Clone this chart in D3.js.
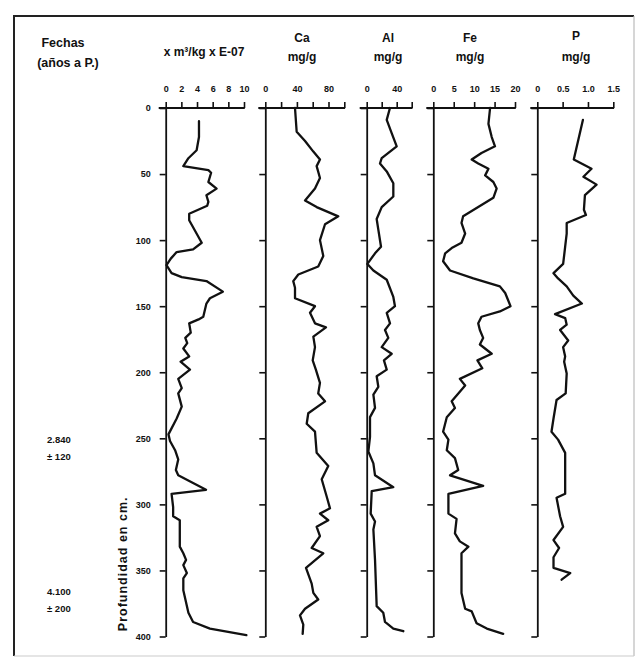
<!DOCTYPE html>
<html>
<head>
<meta charset="utf-8">
<script src="https://cdn.jsdelivr.net/npm/d3@7"></script>
<style>
  body { margin: 0; background: #ffffff; }
  svg { display: block; }
  text { font-family: "Liberation Sans", Arial, sans-serif; font-weight: bold; fill: #111; }
</style>
</head>
<body>
<svg id="chart" width="641" height="661"></svg>
<script>
// ---------------- DATA ----------------
const depthTicks = [0, 50, 100, 150, 200, 250, 300, 350, 400];

const susDepth = [10,22,32,38,44,47,49,56,61,66,71,74,80,85,102,107,109,114,119,125,128,131,139,144,148,158,160,163,170,174,178,182,188,192,198,205,212,216,226,235,247,252,259,266,274,278,289,292,302,309,312,332,337,342,346,352,356,365,382,389,394,399];
const susValue = [4.25,4.25,3.95,2.9,2.25,5.45,5.8,5.45,6.5,5.2,5.45,5.3,3.0,3.0,4.6,3.5,1.4,0.65,0.1,0.75,2.05,5.2,7.3,5.65,5.2,4.8,4.2,3.0,3.2,2.5,2.75,2.25,3.0,1.9,3.1,1.6,2.05,1.6,2.05,1.4,0.35,0.55,1.2,1.6,1.3,1.6,5.15,0.75,0.95,0.95,1.8,1.8,2.25,2.6,2.25,2.7,2.25,2.25,2.9,3.5,5.65,10.3];
const susTicks = [0, 2, 4, 6, 8, 10];
const susTickLabels = ["0", "2", "4", "6", "8", "10"];

const caDepth = [0,18,25,33,39,44,53,61,70,75,82,88,100,112,120,126,131,136,144,150,155,163,166,173,181,191,198,208,216,222,231,239,245,261,271,281,294,303,307,312,317,324,333,337,348,360,367,372,379,384,391,398];
const caValue = [37.6,39.7,50.3,60.8,69.2,65,69.2,62.9,50.3,65,92.4,75.6,69.2,73.4,67,41.8,35.4,37.6,37.6,62.9,56.6,62.9,76.8,60.8,62.9,60,64,69.2,67,75.6,54.4,52.4,62.9,65,79.7,71.4,77.7,81.9,69.2,79.7,65,69.2,58.7,73.4,51.5,58.7,60.8,67,50.3,43.9,48.1,47.3];
const caTicks = [0, 20, 40, 60, 80, 100];
const caTickLabels = ["0", "", "40", "", "80", ""];

const alDepth = [0,9,19,29,38,42,48,57,67,75,84,92,105,110,118,123,130,143,150,155,163,168,174,181,186,191,198,203,211,217,227,234,249,260,269,278,287,290,307,313,319,342,377,382,389,394,396];
const alValue = [31,26.7,33.3,40,20,17.7,26.7,35.5,35.5,20,13.3,15.5,19.1,11.1,0.9,8.9,26.7,35.5,37.7,26.7,31.1,24.4,28.8,20,33.3,23,26.7,13.3,15.5,8.9,11.1,4.4,4.4,2.2,8.9,11.1,35.5,6.7,5.3,11.1,8.9,11.1,13.3,22.1,24.4,35.5,48.8];
const alTicks = [0, 20, 40, 60];
const alTickLabels = ["0", "", "40", ""];

const feDepth = [0,12,22,29,34,39,42,46,51,56,61,68,75,82,87,95,102,106,110,116,123,129,135,140,150,154,158,163,168,174,179,186,191,197,205,210,222,227,234,245,251,259,265,274,278,286,292,307,311,322,328,332,337,367,379,381,390,394,398];
const feValue = [13.9,13.5,14.3,15.1,11.8,9.4,11,13.5,12.7,14.7,15.5,14.7,11,7.3,6.9,7.8,6.9,4.5,2.9,2.4,4.1,9.8,16.3,17.6,18.9,16.3,11.8,11,11.4,12.2,11.4,14.3,10.8,12,6.5,7.8,4.5,5.3,3.3,2.4,3.7,3.3,5.3,6.1,4.1,12.2,3.7,3.7,5.7,5.3,6.5,8.6,6.9,6.9,7.8,9.4,10.6,13.1,17.1];
const feTicks = [0, 5, 10, 15, 20];
const feTickLabels = ["0", "5", "10", "15", "20"];

const pDepth = [9,39,43,46,52,58,66,77,81,87,95,105,118,125,129,135,142,148,156,159,164,168,176,181,188,192,201,216,221,235,245,251,261,292,295,309,317,327,333,340,348,352,357];
const pValue = [0.9,0.72,0.92,1.07,0.91,1.17,0.94,0.92,0.96,0.58,0.58,0.55,0.51,0.32,0.41,0.58,0.71,0.88,0.35,0.55,0.58,0.45,0.61,0.51,0.55,0.53,0.58,0.56,0.38,0.32,0.28,0.41,0.55,0.55,0.38,0.45,0.51,0.32,0.43,0.32,0.32,0.65,0.48];
const pTicks = [0, 0.5, 1.0, 1.5];
const pTickLabels = ["0", "0.5", "1.0", "1.5"];

const panelTitles = [["x m\u00B3/kg x E-07"], ["Ca", "mg/g"], ["Al", "mg/g"], ["Fe", "mg/g"], ["P", "mg/g"]];
const dateLabels = [["2.840", "\u00B1 120"], ["4.100", "\u00B1 200"]];

// ---------------- LAYOUT ----------------
const svg = d3.select("#chart");
const y = d3.scaleLinear().domain([0, 400]).range([108, 636.5]);

const panels = [
  { depth: susDepth, value: susValue, ticks: susTicks, labels: susTickLabels, x0: 165.7, x1: 244, title: panelTitles[0], tx: 204, ty: [56] },
  { depth: caDepth,  value: caValue,  ticks: caTicks,  labels: caTickLabels,  x0: 265.3, x1: 344.3, title: panelTitles[1], tx: 302, ty: [42, 61] },
  { depth: alDepth,  value: alValue,  ticks: alTicks,  labels: alTickLabels,  x0: 366.7, x1: 411.7, title: panelTitles[2], tx: 388, ty: [42, 61] },
  { depth: feDepth,  value: feValue,  ticks: feTicks,  labels: feTickLabels,  x0: 433.3, x1: 515, title: panelTitles[3], tx: 470, ty: [42, 61] },
  { depth: pDepth,   value: pValue,   ticks: pTicks,   labels: pTickLabels,   x0: 537.3, x1: 613.3, title: panelTitles[4], tx: 576, ty: [40, 61] }
];

// Frame
svg.append("line").attr("x1", 14).attr("y1", 16).attr("x2", 634).attr("y2", 16).attr("stroke", "#222").attr("stroke-width", 2);
svg.append("line").attr("x1", 14).attr("y1", 15).attr("x2", 14).attr("y2", 656).attr("stroke", "#222").attr("stroke-width", 2);
svg.append("line").attr("x1", 634).attr("y1", 16).attr("x2", 634).attr("y2", 656).attr("stroke", "#bbb").attr("stroke-width", 1.2);
svg.append("line").attr("x1", 14).attr("y1", 656).attr("x2", 634).attr("y2", 656).attr("stroke", "#ccc").attr("stroke-width", 1.2);

// Header left
svg.append("text").attr("x", 63).attr("y", 47).attr("text-anchor", "middle").attr("font-size", 12.5).text("Fechas");
svg.append("text").attr("x", 68).attr("y", 67).attr("text-anchor", "middle").attr("font-size", 12.5).text("(años a P.)");

panels.forEach((p, i) => {
  const x = d3.scaleLinear().domain([p.ticks[0], p.ticks[p.ticks.length - 1]]).range([p.x0, p.x1]);

  // titles
  p.title.forEach((t, k) => {
    svg.append("text").attr("x", p.tx).attr("y", p.ty[k]).attr("text-anchor", "middle")
      .attr("font-size", 12).text(t);
  });

  // top axis
  const top = svg.append("g").attr("transform", `translate(0,${y(0)})`)
    .call(d3.axisTop(x).tickValues(p.ticks).tickSize(6).tickSizeOuter(0).tickPadding(10)
      .tickFormat((d, k) => p.labels[k]));
  top.select(".domain").remove();
  top.selectAll(".tick line").attr("stroke", "#111").attr("stroke-width", 1.6);
  top.selectAll(".tick text").attr("font-size", 9).attr("font-family", "Liberation Sans, Arial, sans-serif").attr("font-weight", "bold").attr("fill", "#111");
  svg.append("line").attr("x1", p.x0 - 7).attr("x2", p.x1 + 0.8).attr("y1", y(0)).attr("y2", y(0))
    .attr("stroke", "#111").attr("stroke-width", 1.8);

  // left axis
  const left = svg.append("g").attr("transform", `translate(${p.x0},0)`)
    .call(d3.axisLeft(y).tickValues(depthTicks).tickSize(6).tickSizeOuter(0).tickPadding(9)
      .tickFormat(i === 0 ? d3.format("d") : () => ""));
  left.select(".domain").attr("stroke", "#111").attr("stroke-width", 1.8);
  left.selectAll(".tick line").attr("stroke", "#111").attr("stroke-width", 1.6);
  left.selectAll(".tick text").attr("font-size", 9).attr("font-family", "Liberation Sans, Arial, sans-serif").attr("font-weight", "bold").attr("fill", "#111");

  // curve
  const pts = p.depth.map((d, k) => [x(p.value[k]), y(d)]);
  svg.append("path").attr("d", d3.line().curve(d3.curveLinear)(pts))
    .attr("fill", "none").attr("stroke", "#111").attr("stroke-width", 2.3)
    .attr("stroke-linejoin", "round").attr("stroke-linecap", "round");
});

// Depth label
svg.append("text").attr("transform", `translate(127,${y(345)}) rotate(-90)`)
  .attr("text-anchor", "middle").attr("font-size", 12.5).attr("letter-spacing", 1)
  .text("Profundidad  en  cm.");

// Date labels
const dateDepths = [255, 370];
dateLabels.forEach((pair, k) => {
  svg.append("text").attr("x", 47).attr("y", y(dateDepths[k]) - 2).attr("font-size", 9.5).text(pair[0]);
  svg.append("text").attr("x", 47).attr("y", y(dateDepths[k]) + 15).attr("font-size", 9.5).text(pair[1]);
});
</script>
</body>
</html>
